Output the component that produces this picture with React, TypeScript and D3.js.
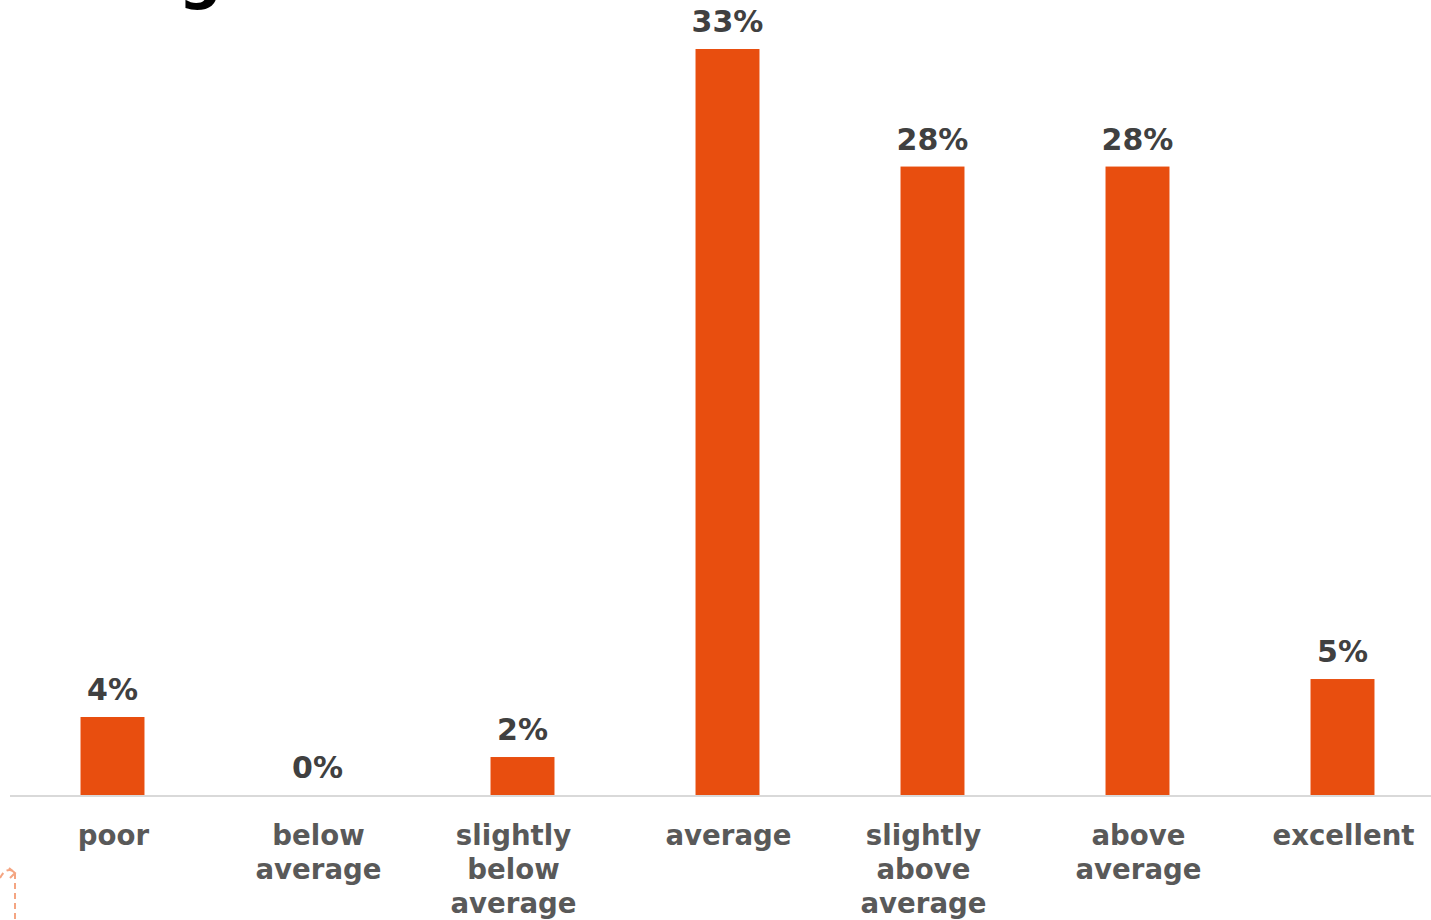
import React from "react";
import * as d3 from "d3";

const categories: string[][] = [
  ["poor"],
  ["below", "average"],
  ["slightly", "below", "average"],
  ["average"],
  ["slightly", "above", "average"],
  ["above", "average"],
  ["excellent"],
];
const values: number[] = [3.45, 0, 1.68, 33.0, 27.8, 27.8, 5.13];
const valueLabels: string[] = ["4%", "0%", "2%", "33%", "28%", "28%", "5%"];

const W = 1431;
const H = 920;

export default function App() {
  const x = d3
    .scaleBand<number>()
    .domain(values.map((_, i) => i))
    .range([10, 1445])
    .paddingInner(0.688)
    .paddingOuter(0.344);
  const y = d3.scaleLinear().domain([0, 33]).range([795, 49]);
  const bw = x.bandwidth();
  return (
    <svg
      width={W}
      height={H}
      style={{ position: "absolute", left: 0, top: 0, background: "#fff" }}
      fontFamily="'DejaVu Sans', Verdana, sans-serif"
      fontWeight="bold"
    >
      <text x={0} y={-3} fontSize={60} fill="#000" fontFamily="'DejaVu Sans', sans-serif">
        Rating
      </text>
      {values.map((v, i) => (
        <rect
          key={"b" + i}
          x={x(i)!}
          y={y(v)}
          width={bw}
          height={y(0) - y(v)}
          fill="#E84E0F"
        />
      ))}
      <line x1={10} x2={1431} y1={796} y2={796} stroke="#D9D9D9" strokeWidth={2} />
      {values.map((v, i) => (
        <text
          key={"v" + i}
          x={x(i)! + bw / 2}
          y={y(v) - 17}
          textAnchor="middle"
          fontSize={30}
          fill="#404040"
        >
          {valueLabels[i]}
        </text>
      ))}
      {categories.map((lines, i) => {
        const cx = x(i)! + bw / 2 + (lines.length === 3 ? -9 : 1);
        return (
          <text
            key={"c" + i}
            x={cx}
            y={845}
            textAnchor="middle"
            fontSize={27.6}
            fill="#595959"
          >
            {lines.map((l, j) => (
              <tspan key={j} x={cx} dy={j === 0 ? 0 : 34}>
                {l}
              </tspan>
            ))}
          </text>
        );
      })}
      <path
        d="M0,878 Q6,866 15,872 L15,920"
        fill="none"
        stroke="#F4A582"
        strokeWidth={2}
        strokeDasharray="6,4"
      />
      <path d="M9,868 L15,873 L10,878" fill="none" stroke="#F4A582" strokeWidth={2} />
    </svg>
  );
}
